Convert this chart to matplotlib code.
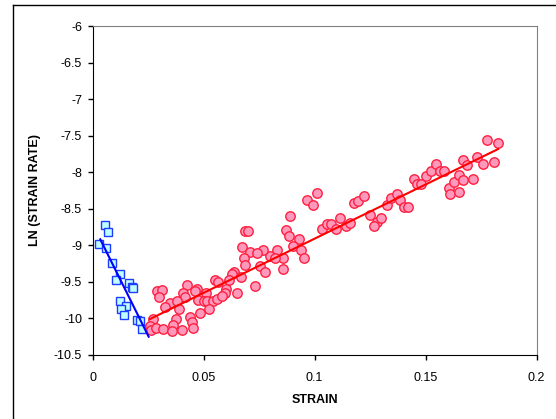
"""
LN(strain rate) vs strain, two regimes with linear trend lines
"""
import numpy as np
import matplotlib
matplotlib.use('Agg')
import matplotlib.pyplot as plt
from matplotlib.lines import Line2D

plt.rcParams['font.family'] = ['Liberation Sans', 'DejaVu Sans']
plt.rcParams['axes.unicode_minus'] = False

# early regime (blue squares)
strain_a = [0.0055, 0.0070, 0.0031, 0.0061, 0.0088, 0.0123, 0.0106, 0.0163, 0.0178,
            0.0183, 0.0125, 0.0152, 0.0130, 0.0141, 0.0201, 0.0213, 0.0223]
ln_rate_a = [-8.726, -8.826, -8.990, -9.045, -9.251, -9.401, -9.479, -9.525, -9.571,
             -9.593, -9.763, -9.832, -9.881, -9.959, -10.027, -10.041, -10.151]

# later regime (red circles)
strain_b = [0.0685, 0.0700, 0.0675, 0.0710, 0.0683, 0.0688, 0.0639, 0.0630, 0.0552, 0.0567,
            0.0617, 0.0670, 0.0425, 0.0289, 0.0312, 0.0300, 0.0409, 0.0417, 0.0470, 0.0462,
            0.0512, 0.0602, 0.0597, 0.0650, 0.0349, 0.0327, 0.0380, 0.0390, 0.0477, 0.0500,
            0.0515, 0.0542, 0.0563, 0.0585, 0.0525, 0.0486, 0.0274, 0.0440, 0.0450, 0.0454,
            0.0375, 0.0364, 0.0259, 0.0264, 0.0285, 0.0316, 0.0360, 0.0405,
            0.1011, 0.0968, 0.0993, 0.0890, 0.0871, 0.0887, 0.0928, 0.0905, 0.0939, 0.0954,
            0.0860, 0.0830, 0.0856, 0.0800, 0.0820, 0.0767, 0.0740, 0.0755, 0.0778, 0.0733,
            0.1033, 0.1056, 0.1074, 0.1098, 0.1113, 0.1143, 0.1158, 0.1179, 0.1198, 0.1224,
            0.1251, 0.1281, 0.1269, 0.1299, 0.1326, 0.1346, 0.1371, 0.1383, 0.1401, 0.1421,
            0.1446, 0.1462, 0.1480, 0.1502, 0.1526, 0.1549, 0.1567, 0.1585, 0.1604, 0.1612,
            0.1627, 0.1649, 0.1649, 0.1669, 0.1712, 0.1669, 0.1687, 0.1732, 0.1759, 0.1777,
            0.1807, 0.1827]
ln_rate_b = [-8.808, -8.808, -9.023, -9.092, -9.182, -9.274, -9.366, -9.397, -9.479, -9.503,
             -9.479, -9.443, -9.548, -9.630, -9.616, -9.708, -9.653, -9.708, -9.603, -9.630,
             -9.653, -9.607, -9.662, -9.662, -9.799, -9.853, -9.763, -9.881, -9.753, -9.767,
             -9.767, -9.763, -9.744, -9.699, -9.881, -9.936, -10.014, -9.991, -10.051, -10.133,
             -10.014, -10.096, -10.110, -10.164, -10.141, -10.151, -10.178, -10.164,
             -8.292, -8.388, -8.452, -8.599, -8.795, -8.881, -8.918, -9.014, -9.068, -9.182,
             -9.329, -9.068, -9.182, -9.147, -9.182, -9.068, -9.105, -9.284, -9.366, -9.562,
             -8.781, -8.712, -8.712, -8.785, -8.634, -8.740, -8.694, -8.429, -8.397, -8.325,
             -8.589, -8.681, -8.740, -8.634, -8.452, -8.352, -8.305, -8.388, -8.475, -8.475,
             -8.100, -8.168, -8.168, -8.051, -7.986, -7.890, -7.986, -7.986, -8.224, -8.305,
             -8.132, -8.041, -8.269, -8.110, -8.100, -7.836, -7.904, -7.799, -7.890, -7.562,
             -7.858, -7.607]

# linear trend lines: slope, intercept, x range
fit_a = (-61.2, -8.708, [0.0035, 0.0253])
fit_b = (14.85, -10.399, [0.0259, 0.1827])

x_ticks = [0, 0.05, 0.1, 0.15, 0.2]
y_ticks = [-10.5, -10, -9.5, -9, -8.5, -8, -7.5, -7, -6.5, -6]


def trend(fit):
    slope, icpt, xr = fit
    xs = np.array(xr)
    return xs, slope * xs + icpt


fig = plt.figure(figsize=(5.56, 4.19), dpi=100)
ax = fig.add_axes([92.5 / 556, 1 - 354.5 / 419, 444 / 556, 328.5 / 419])

ax.plot(strain_a, ln_rate_a, 's', ms=6, mfc='#BFFFFF', mec='#1E3CFF', mew=1.0, zorder=3)
ax.plot(strain_b, ln_rate_b, 'o', ms=6.8, mfc='#FF99BB', mec='#FF2040', mew=1.0, zorder=3)

xs, ys = trend(fit_a)
ax.plot(xs, ys, color='#0000FF', lw=1.5, zorder=4)
xs, ys = trend(fit_b)
ax.plot(xs, ys, color='#FF0000', lw=1.5, zorder=4)

ax.set_xlim(0, 0.2)
ax.set_ylim(-10.5, -6)
ax.set_xticks(x_ticks)
ax.set_xticklabels([f'{v:g}' for v in x_ticks])
ax.set_yticks(y_ticks)
ax.set_yticklabels([f'{v:g}' for v in y_ticks])
ax.tick_params(direction='out', length=3.5, width=1, labelsize=9, colors='black')
ax.tick_params(axis='x', pad=9)
ax.tick_params(axis='y', pad=4)

for side in ['top', 'right']:
    ax.spines[side].set_color('#808080')
for side in ['left', 'bottom']:
    ax.spines[side].set_color('black')

ax.set_xlabel('STRAIN', fontsize=9, fontweight='bold', labelpad=7)
ax.set_ylabel('LN (STRAIN RATE)', fontsize=9, fontweight='bold', labelpad=9)

# chart area border (cropped at right/bottom)
fig.add_artist(Line2D([13 / 556, 13 / 556], [0, 1 - 5 / 419], transform=fig.transFigure,
                      color='black', lw=1))
fig.add_artist(Line2D([13 / 556, 1], [1 - 5 / 419, 1 - 5 / 419], transform=fig.transFigure,
                      color='black', lw=1))

fig.savefig('out.png', dpi=100)
